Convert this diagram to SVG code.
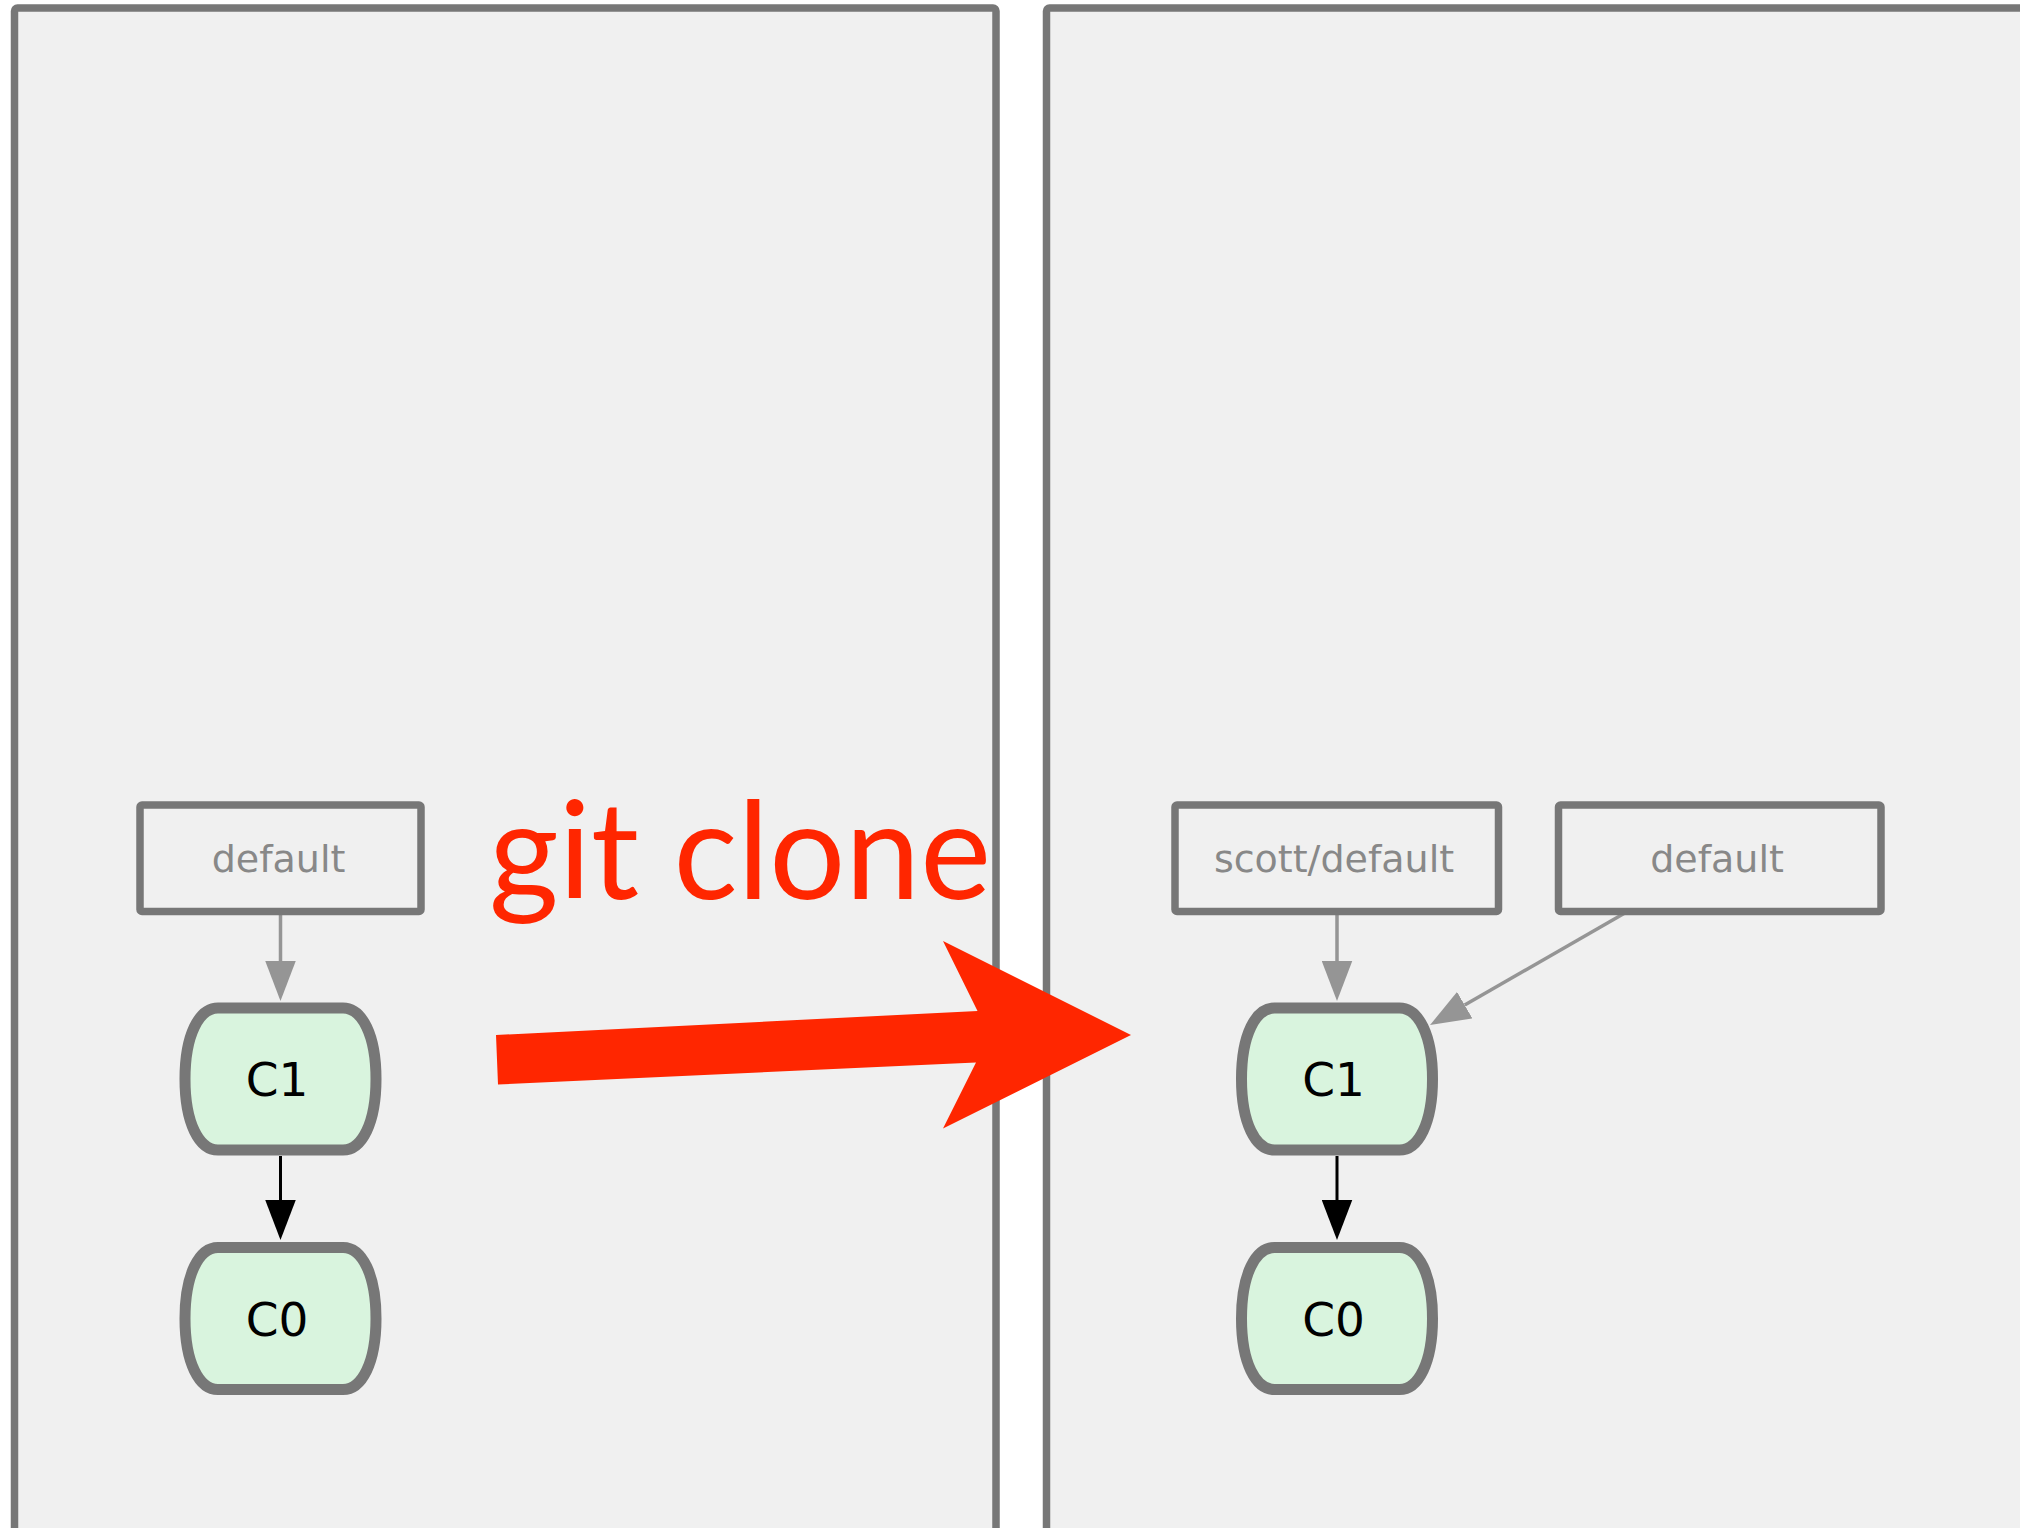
<svg xmlns="http://www.w3.org/2000/svg" width="2020" height="1528" viewBox="0 0 2020 1528">
  <style>
    .panel { fill: #f0f0f0; stroke: #777777; stroke-width: 7.5; }
    .ref { fill: none; stroke: #777777; stroke-width: 7.5; }
    .reftext { font-family: "DejaVu Sans", sans-serif; font-size: 38px; fill: #888888; text-anchor: middle; }
    .commit { fill: #d9f4de; stroke: #777777; stroke-width: 11; }
    .ctext { font-family: "DejaVu Sans", sans-serif; font-size: 47px; fill: #000000; text-anchor: middle; }
    .gray { stroke: #959595; stroke-width: 3.5; fill: none; }
    .black { stroke: #000000; stroke-width: 3; fill: none; }
    .red { fill: #ff2600; }
    .cmd { font-family: Lato, "Open Sans", sans-serif; font-size: 136px; fill: #ff2600; }
  </style>
  <defs>
    <path id="commitShape" d="M -62.5,-71 H 62.5 C 81.5,-71 95.5,-44 95.5,0 C 95.5,44 81.5,71 62.5,71 H -62.5 C -81.5,71 -95.5,44 -95.5,0 C -95.5,-44 -81.5,-71 -62.5,-71 Z"/>
    <marker id="arrGray" markerUnits="userSpaceOnUse" markerWidth="40" markerHeight="31" refX="0" refY="14.5" orient="auto" viewBox="0 0 38 29">
      <path d="M0,0 L38,14.5 L0,29 Z" fill="#959595"/>
    </marker>
    <marker id="arrBlack" markerUnits="userSpaceOnUse" markerWidth="40" markerHeight="31" refX="0" refY="14.5" orient="auto" viewBox="0 0 38 29">
      <path d="M0,0 L38,14.5 L0,29 Z" fill="#000000"/>
    </marker>
  </defs>

  <g id="panel-left">
    <rect class="panel" x="14.5" y="8" width="981.5" height="1600" rx="3"/>
  </g>
  <g id="panel-right">
    <rect class="panel" x="1046.5" y="8" width="1100" height="1600" rx="3"/>
  </g>

  <g id="connectors">
    <line class="gray" x1="280.5" y1="915" x2="280.5" y2="961" marker-end="url(#arrGray)"/>
    <line class="black" x1="280.5" y1="1156" x2="280.5" y2="1200" marker-end="url(#arrBlack)"/>
    <line class="gray" x1="1337" y1="915" x2="1337" y2="961" marker-end="url(#arrGray)"/>
    <line class="gray" x1="1624" y1="913.5" x2="1464.7" y2="1005.1" marker-end="url(#arrGray)"/>
    <line class="black" x1="1337" y1="1156" x2="1337" y2="1200" marker-end="url(#arrBlack)"/>
  </g>

  <g id="left-default">
    <rect class="ref" x="140" y="805" width="281" height="106.5" rx="2"/>
    <text class="reftext" x="278.5" y="872">default</text>
  </g>
  <g id="left-C1" transform="translate(280.5,1079)">
    <use href="#commitShape" class="commit"/>
    <text class="ctext" x="-3.5" y="17">C1</text>
  </g>
  <g id="left-C0" transform="translate(280.5,1318.5)">
    <use href="#commitShape" class="commit"/>
    <text class="ctext" x="-3.5" y="17">C0</text>
  </g>

  <g id="right-scott-default">
    <rect class="ref" x="1175" y="805" width="323.5" height="106.5" rx="2"/>
    <text class="reftext" x="1334" y="872">scott/default</text>
  </g>
  <g id="right-default">
    <rect class="ref" x="1558.5" y="805" width="322.5" height="106.5" rx="2"/>
    <text class="reftext" x="1717" y="872">default</text>
  </g>
  <g id="right-C1" transform="translate(1337,1079)">
    <use href="#commitShape" class="commit"/>
    <text class="ctext" x="-3.5" y="17">C1</text>
  </g>
  <g id="right-C0" transform="translate(1337,1318.5)">
    <use href="#commitShape" class="commit"/>
    <text class="ctext" x="-3.5" y="17">C0</text>
  </g>

  <g id="git-clone">
    <text class="cmd" x="489" y="899" textLength="502" lengthAdjust="spacingAndGlyphs">git clone</text>
    <polygon class="red" points="496,1035 977.5,1011 943,941 1131,1035 943,1128.5 976,1062.5 498,1084.5"/>
  </g>
</svg>
